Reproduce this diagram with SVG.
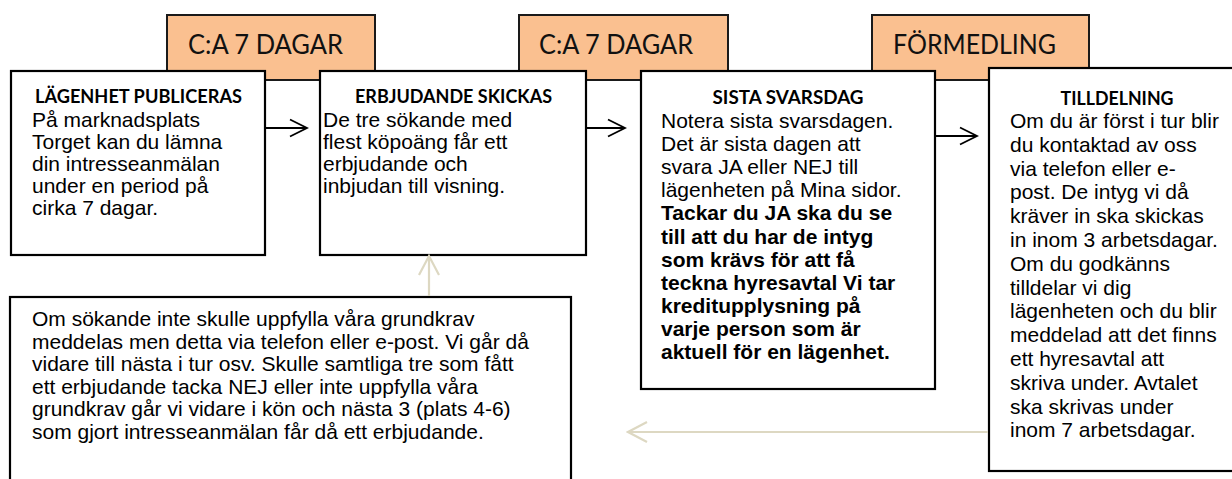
<svg xmlns="http://www.w3.org/2000/svg" width="1232" height="479" viewBox="0 0 1232 479">
<style>
.bg{fill:#ffffff}
.tag{fill:#FAC090;stroke:#1a1a1a;stroke-width:2}
.box{fill:#ffffff;stroke:#000000;stroke-width:2.2}
.tagt{font-family:Lato,"Open Sans",sans-serif;font-size:26px;fill:#111111}
.hd{font-family:Lato,"Open Sans",sans-serif;font-weight:bold;font-size:19px;fill:#000000;text-anchor:middle}
.bd{font-family:"Liberation Sans",Arial,sans-serif;font-size:21px;fill:#000000}
.b{font-weight:bold}
.con{fill:none;stroke:#000000;stroke-width:1.8}
.con2{fill:none;stroke:#DDD8C2;stroke-width:2.2}
</style>
<defs>
<marker id="ah" markerUnits="userSpaceOnUse" viewBox="0 0 20 20" refX="18" refY="10" markerWidth="20" markerHeight="20" orient="auto">
<path d="M1,1.5 L18,10 L1,18.5" fill="none" stroke="#000000" stroke-width="1.8"/>
</marker>
<marker id="ah2" markerUnits="userSpaceOnUse" viewBox="0 0 22 24" refX="20" refY="12" markerWidth="22" markerHeight="24" orient="auto">
<path d="M1,2 L20,12 L1,22" fill="none" stroke="#DDD8C2" stroke-width="2.2"/>
</marker>
</defs>
<rect class="bg" x="0" y="0" width="1232" height="479"/>

<g id="tag1"><rect class="tag" x="167" y="15" width="208" height="65"/><text class="tagt" x="188" y="54" textLength="155" lengthAdjust="spacingAndGlyphs">C:A 7 DAGAR</text></g>
<g id="tag2"><rect class="tag" x="519" y="15" width="209" height="65"/><text class="tagt" x="539" y="54" textLength="154" lengthAdjust="spacingAndGlyphs">C:A 7 DAGAR</text></g>
<g id="tag3"><rect class="tag" x="872" y="15" width="217" height="65"/><text class="tagt" x="893" y="54" textLength="163" lengthAdjust="spacingAndGlyphs">FÖRMEDLING</text></g>

<g id="box1"><rect class="box" x="11" y="71" width="254" height="184"/>
<text class="hd" x="138.5" y="103" textLength="207" lengthAdjust="spacingAndGlyphs">LÄGENHET PUBLICERAS</text>
<text class="bd"><tspan x="32" y="127">På marknadsplats</tspan><tspan x="32" y="149">Torget kan du lämna</tspan><tspan x="32" y="171">din intresseanmälan</tspan><tspan x="32" y="193">under en period på</tspan><tspan x="32" y="215">cirka 7 dagar.</tspan></text>
</g>

<g id="box2"><rect class="box" x="320" y="71" width="266" height="184"/>
<text class="hd" x="453.5" y="103" textLength="197" lengthAdjust="spacingAndGlyphs">ERBJUDANDE SKICKAS</text>
<text class="bd"><tspan x="323" y="127">De tre sökande med</tspan><tspan x="323" y="149">flest köpoäng får ett</tspan><tspan x="323" y="171">erbjudande och</tspan><tspan x="323" y="193">inbjudan till visning.</tspan></text>
</g>

<g id="box3"><rect class="box" x="641" y="71" width="294" height="318"/>
<text class="hd" x="788" y="104" textLength="151" lengthAdjust="spacingAndGlyphs">SISTA SVARSDAG</text>
<text class="bd"><tspan x="661" y="128">Notera sista svarsdagen.</tspan><tspan x="661" y="151.1">Det är sista dagen att</tspan><tspan x="661" y="174.2">svara JA eller NEJ till</tspan><tspan x="661" y="197.3">lägenheten på Mina sidor.</tspan></text>
<text class="bd b"><tspan x="661" y="220.4">Tackar du JA ska du se</tspan><tspan x="661" y="243.5">till att du har de intyg</tspan><tspan x="661" y="266.6">som krävs för att få</tspan><tspan x="661" y="289.7">teckna hyresavtal Vi tar</tspan><tspan x="661" y="312.8">kreditupplysning på</tspan><tspan x="661" y="335.9">varje person som är</tspan><tspan x="661" y="359">aktuell för en lägenhet.</tspan></text>
</g>

<g id="box4"><rect class="box" x="989" y="68" width="260" height="403"/>
<text class="hd" x="1117" y="105" textLength="113" lengthAdjust="spacingAndGlyphs">TILLDELNING</text>
<text class="bd"><tspan x="1010" y="128">Om du är först i tur blir</tspan><tspan x="1010" y="151.8">du kontaktad av oss</tspan><tspan x="1010" y="175.6">via telefon eller e-</tspan><tspan x="1010" y="199.4">post. De intyg vi då</tspan><tspan x="1010" y="223.2">kräver in ska skickas</tspan><tspan x="1010" y="247">in inom 3 arbetsdagar.</tspan><tspan x="1010" y="270.8">Om du godkänns</tspan><tspan x="1010" y="294.6">tilldelar vi dig</tspan><tspan x="1010" y="318.4">lägenheten och du blir</tspan><tspan x="1010" y="342.2">meddelad att det finns</tspan><tspan x="1010" y="366">ett hyresavtal att</tspan><tspan x="1010" y="389.8">skriva under. Avtalet</tspan><tspan x="1010" y="413.6">ska skrivas under</tspan><tspan x="1010" y="437.4">inom 7 arbetsdagar.</tspan></text>
</g>

<g id="box5"><rect class="box" x="10" y="297" width="561" height="200"/>
<text class="bd"><tspan x="32" y="326">Om sökande inte skulle uppfylla våra grundkrav</tspan><tspan x="32" y="348.5">meddelas men detta via telefon eller e-post. Vi går då</tspan><tspan x="32" y="371">vidare till nästa i tur osv. Skulle samtliga tre som fått</tspan><tspan x="32" y="393.5">ett erbjudande tacka NEJ eller inte uppfylla våra</tspan><tspan x="32" y="416">grundkrav går vi vidare i kön och nästa 3 (plats 4-6)</tspan><tspan x="32" y="438.5">som gjort intresseanmälan får då ett erbjudande.</tspan></text>
</g>

<g id="connectors">
<line class="con" x1="266" y1="128" x2="307" y2="128" marker-end="url(#ah)"/>
<line class="con" x1="587" y1="128" x2="625" y2="128" marker-end="url(#ah)"/>
<line class="con" x1="936" y1="136" x2="977" y2="136" marker-end="url(#ah)"/>
<line class="con2" x1="988" y1="432" x2="628" y2="432" marker-end="url(#ah2)"/>
<line class="con2" x1="429" y1="296" x2="429" y2="256" marker-end="url(#ah2)"/>
</g>
</svg>
